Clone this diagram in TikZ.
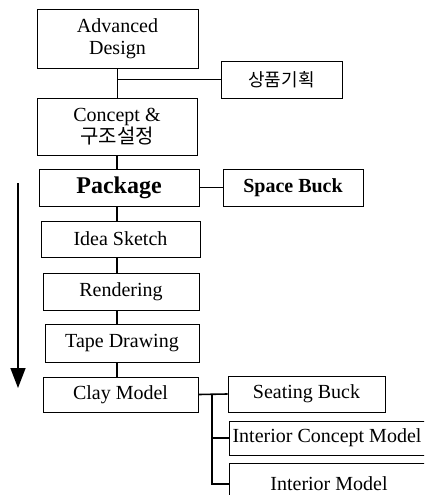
\documentclass[tikz,border=0pt]{standalone}
\usepackage{fontspec}
\setmainfont{Liberation Serif}
\newfontfamily\kor{Noto Sans CJK KR}
\usetikzlibrary{arrows.meta}

\begin{document}
\begin{tikzpicture}[x=1pt,y=-1pt,
        blocco/.style={draw,line width=0.9pt,inner sep=2pt,align=center,
                       font=\fontsize{20}{22}\selectfont},
        linea/.style={line width=1.6pt}]
        \useasboundingbox (0,0) rectangle (424,495);
        \clip (0,0) rectangle (424,495);
        %blocchi colonna centrale
        \node[blocco,minimum width=161pt,minimum height=59pt](ad) at (117.5,38.5){Advanced\\Design};
        \node[blocco,minimum width=160pt,minimum height=57pt](con) at (117,126.5){Concept \&\\{\kor 구조설정}};
        \node[blocco,minimum width=160pt,minimum height=37pt,
              font=\fontsize{24}{26}\selectfont\bfseries](pkg) at (119,187.5){Package};
        \node[blocco,minimum width=159pt,minimum height=36pt](idea) at (120.5,239){Idea Sketch};
        \node[blocco,minimum width=156pt,minimum height=37pt](ren) at (121,291.5){Rendering};
        \node[blocco,minimum width=154pt,minimum height=38pt](tape) at (122,343){Tape Drawing};
        \node[blocco,minimum width=155pt,minimum height=35pt](clay) at (120.5,394.5){Clay Model};
        %blocchi laterali
        \node[blocco,minimum width=121pt,minimum height=37pt,
              font=\fontsize{18}{20}\kor](spk) at (281.5,79.5){상품기획};
        \node[blocco,minimum width=140pt,minimum height=37pt,
              font=\fontsize{20}{22}\selectfont\bfseries](sb) at (293,187.5){Space Buck};
        \node[blocco,minimum width=157pt,minimum height=36pt](seat) at (306.5,394){Seating Buck};
        \node[blocco,minimum width=196pt,minimum height=34pt](icm) at (327,438){Interior Concept Model};
        \node[blocco,minimum width=200pt,minimum height=42pt](im) at (329,484){Interior Model};
        %collegamenti
        \draw[linea](ad.south)--(ad.south|-con.north);
        \draw[linea](spk.west)--(spk.west-|ad.south);
        \draw[linea](con.south)--(con.south|-pkg.north);
        \draw[linea](sb.west)--(pkg.east|-sb.west);
        \draw[linea](con.south|-pkg.south)--(con.south|-idea.north);
        \draw[linea](con.south|-idea.south)--(con.south|-ren.north);
        \draw[linea](con.south|-ren.south)--(con.south|-tape.north);
        \draw[linea](con.south|-tape.south)--(con.south|-clay.north);
        \coordinate(ramo) at (212,394.5);
        \draw[linea](clay.east)--(seat.west);
        \draw[linea](ramo)|-(im.west);
        \draw[linea](ramo|-icm.west)--(icm.west);
        %freccia
        \coordinate(inizio) at (18,183);
        \coordinate(fine) at (18,388);
        \draw[line width=1.5pt,-{Triangle[length=20pt,width=15pt]}](inizio)--(fine);
\end{tikzpicture}
\end{document}
